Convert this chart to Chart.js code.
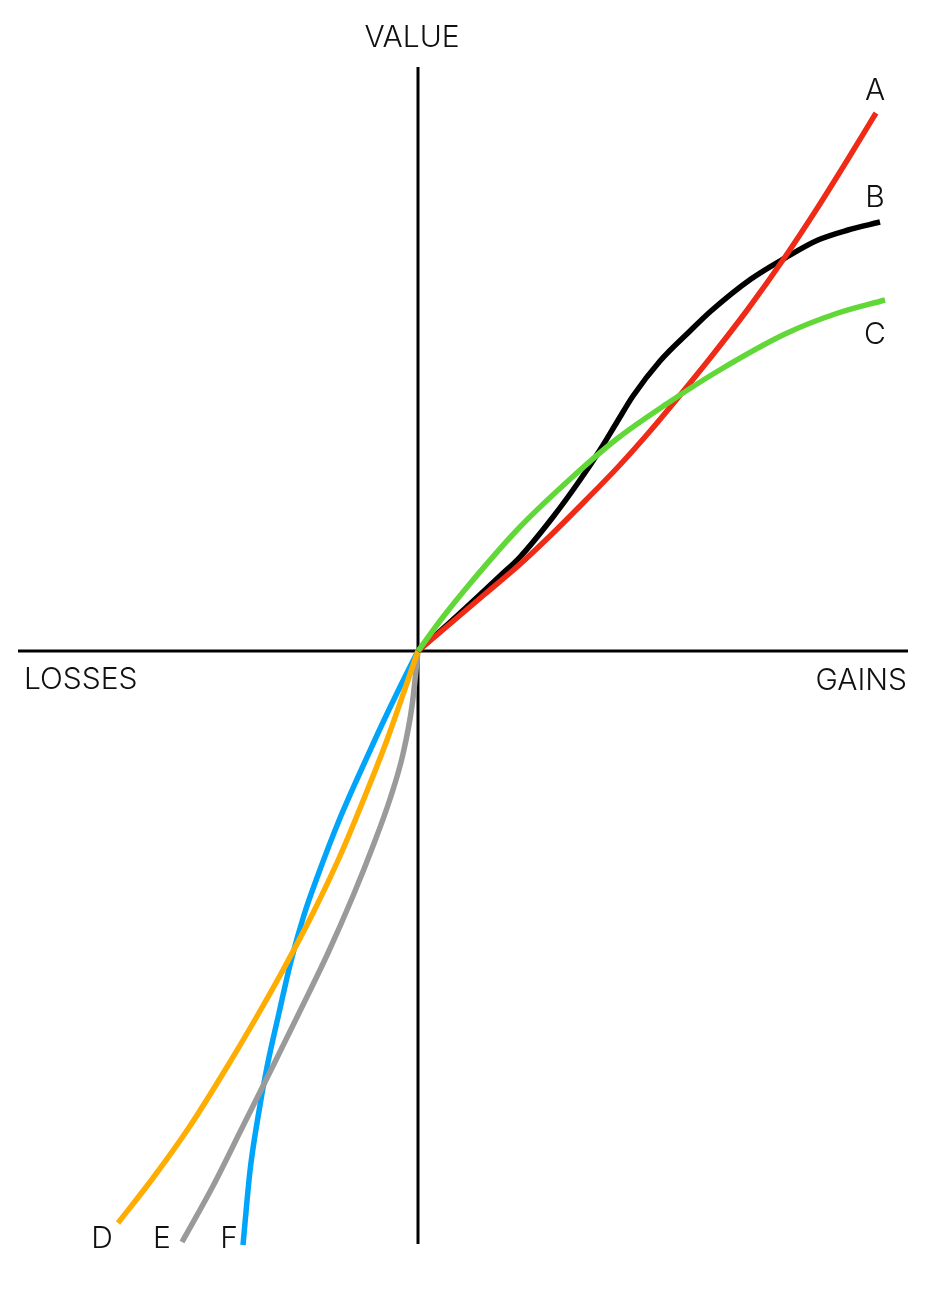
<!DOCTYPE html>
<html>
<head>
<meta charset="utf-8">
<script src="https://cdn.jsdelivr.net/npm/chart.js@4"></script>
<style>
    html, body { margin: 0; padding: 0; background: #ffffff; }
    #wrap { position: relative; width: 927px; height: 1311px; }
</style>
</head>
<body>
<div id="wrap"><canvas id="value-chart"></canvas></div>
<script>
// curves, [x, y] with origin at the crossing of the axes
const curveA = [[0, 0], [33, 28], [67, 57], [100, 85], [133, 116], [167, 150], [200, 184], [233, 221], [263, 257], [293, 294], [330, 342], [367, 394], [400, 444], [430, 492], [458, 538]];
const curveB = [[0, 0], [40, 36], [83, 76], [102, 94], [135, 134], [162, 171], [182, 201], [199, 229], [215, 255], [242, 290], [272, 320], [293, 340], [333, 372], [367, 393], [400, 411], [430, 421], [462, 429]];
const curveC = [[0, 0], [25, 34], [50, 65], [100, 122], [150, 170], [200, 213], [250, 248], [300, 280], [367, 317], [417, 337], [467, 351]];
const curveD = [[0, 0], [-11, -32], [-31, -89], [-55, -150], [-78, -205], [-105, -262], [-135, -319], [-162, -367], [-191, -416], [-228, -475], [-265, -527], [-300, -572]];
const curveE = [[0, 0], [-6, -55], [-15, -103], [-28, -148], [-45, -195], [-65, -245], [-90, -302], [-118, -360], [-145, -415], [-175, -475], [-205, -535], [-236, -591]];
const curveF = [[0, 0], [-20, -40], [-40, -82], [-60, -126], [-80, -172], [-100, -224], [-114, -264], [-127, -310], [-139, -362], [-151, -416], [-160, -466], [-168, -520], [-175, -594]];

// axis extents
const gainsAxis = [[-400, 0], [490, 0]];
const valueAxis = [[0, 584], [0, -593]];

const curveNames = ['A', 'B', 'C', 'D', 'E', 'F'];
const axisTitles = ['VALUE', 'LOSSES', 'GAINS'];

const COLORS = {
    A: '#ef2a16',
    B: '#000000',
    C: '#62d838',
    D: '#ffad00',
    E: '#9a9a9a',
    F: '#00a5fb',
    axis: '#000000',
    text: '#111111'
};

const toPts = arr => arr.map(p => ({ x: p[0], y: p[1] }));

function curve(label, data, color, order) {
    return {
        label,
        data: toPts(data),
        showLine: true,
        borderColor: color,
        borderWidth: 5.5,
        pointRadius: 0,
        cubicInterpolationMode: 'monotone',
        fill: false,
        order
    };
}

function axisLine(label, data) {
    return {
        label,
        data: toPts(data),
        showLine: true,
        borderColor: COLORS.axis,
        borderWidth: 3,
        pointRadius: 0,
        tension: 0,
        order: 20
    };
}

// text placed in data coordinates, so it follows the scales
const textPlugin = {
    id: 'valueText',
    afterDatasetsDraw(chart) {
        const { ctx, scales: { x, y } } = chart;
        const marks = [
            { t: curveNames[0], x: 457, y: 560, align: 'center' },
            { t: curveNames[1], x: 457, y: 453, align: 'center' },
            { t: curveNames[2], x: 457, y: 316, align: 'center' },
            { t: curveNames[3], x: -316, y: -588, align: 'center' },
            { t: curveNames[4], x: -256, y: -588, align: 'center' },
            { t: curveNames[5], x: -189, y: -588, align: 'center' },
            { t: axisTitles[0], x: -6, y: 613, align: 'center' },
            { t: axisTitles[1], x: -394, y: -29, align: 'left' },
            { t: axisTitles[2], x: 489, y: -30, align: 'right' }
        ];
        ctx.save();
        ctx.fillStyle = COLORS.text;
        ctx.font = '300 30px Inter, "Liberation Sans", Arial, sans-serif';
        ctx.textBaseline = 'middle';
        marks.forEach(m => {
            ctx.textAlign = m.align;
            ctx.fillText(m.t, x.getPixelForValue(m.x), y.getPixelForValue(m.y));
        });
        ctx.restore();
    }
};

const ctx = document.getElementById('value-chart').getContext('2d');
new Chart(ctx, {
    type: 'scatter',
    data: {
        datasets: [
            axisLine('gains axis', gainsAxis),
            axisLine('value axis', valueAxis),
            curve('A', curveA, COLORS.A, 2),
            curve('B', curveB, COLORS.B, 3),
            curve('C', curveC, COLORS.C, 1),
            curve('D', curveD, COLORS.D, 4),
            curve('E', curveE, COLORS.E, 4),
            curve('F', curveF, COLORS.F, 5)
        ]
    },
    options: {
        responsive: true,
        maintainAspectRatio: false,
        animation: false,
        layout: { padding: 0 },
        plugins: {
            legend: { display: false },
            tooltip: { enabled: false }
        },
        scales: {
            x: { type: 'linear', min: -418, max: 509, display: false },
            y: { type: 'linear', min: -660, max: 651, display: false }
        }
    },
    plugins: [textPlugin]
});
</script>
</body>
</html>
